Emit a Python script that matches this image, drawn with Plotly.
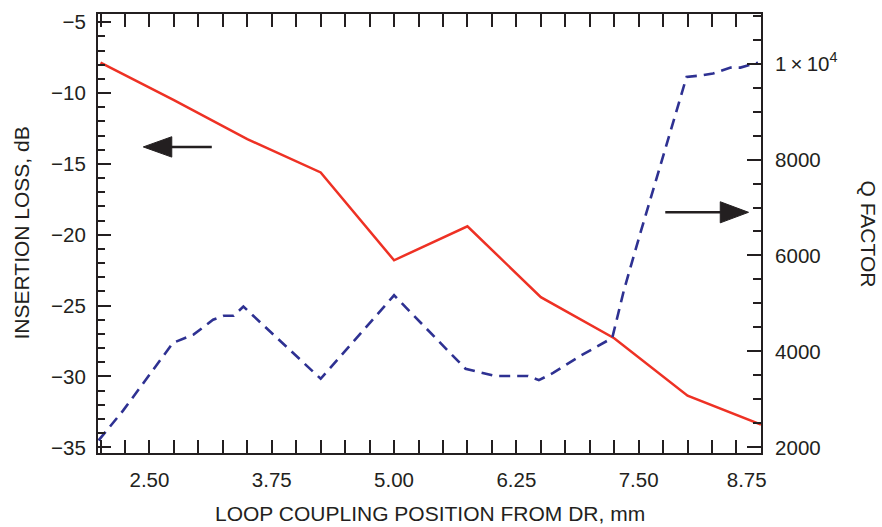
import plotly.graph_objects as go

# ---- data ----
x_loss = [2.0, 2.75, 3.5, 4.25, 5.0, 5.75, 6.5, 7.25, 8.0, 8.75]
insertion_loss = [-7.85, -10.5, -13.25, -15.6, -21.8, -19.4, -24.4, -27.3, -31.35, -33.4]

x_q = [1.98, 2.23, 2.74, 2.95, 3.15, 3.26, 3.36, 3.46, 4.25, 5.0, 5.73, 5.95, 6.03,
       6.37, 6.48, 6.63, 6.90, 7.23, 7.35, 7.52, 7.70, 7.87, 7.99, 8.13, 8.26, 8.44,
       8.54, 8.72]
q_factor = [2145, 2765, 4177, 4350, 4660, 4743, 4743, 4935, 3430, 5170, 3639, 3523, 3488,
            3488, 3400, 3556, 3902, 4280, 5280, 6485, 7726, 8897, 9724, 9751, 9793, 9917,
            9917, 10020]

x_ticks = [2.5, 3.75, 5.0, 6.25, 7.5, 8.75]
x_ticklabels = ["2.50", "3.75", "5.00", "6.25", "7.50", "8.75\u00a0\u00a0\u00a0\u00a0\u00a0"]
y_ticks = [-35, -30, -25, -20, -15, -10, -5]
q_ticks = [2000, 4000, 6000, 8000, 10000]
q_ticklabels = ["2000", "4000", "6000", "8000", "1\u2009\u00d7\u200910<sup>4</sup>"]

RED = "#EE3124"
BLUE = "#2E3192"
INK = "#231F20"
FONT = "Liberation Sans, Arial, Helvetica, sans-serif"

fig = go.Figure()
fig.add_trace(go.Scatter(x=x_loss, y=insertion_loss, mode="lines",
                         line=dict(color=RED, width=2.5), yaxis="y", showlegend=False))
fig.add_trace(go.Scatter(x=x_q, y=q_factor, mode="lines",
                         line=dict(color=BLUE, width=2.6, dash="11px,7px"),
                         yaxis="y2", showlegend=False))

axis_common = dict(showgrid=False, zeroline=False, showline=True, linewidth=2,
                   linecolor=INK, ticks="inside", tickcolor=INK, tickwidth=1.5,
                   tickfont=dict(family=FONT, size=20.5, color=INK))

fig.update_layout(
    width=882, height=527,
    margin=dict(l=98, r=121, t=10, b=74),
    paper_bgcolor="white", plot_bgcolor="white",
    font=dict(family=FONT, size=20.5, color=INK),
    xaxis=dict(range=[1.974, 8.7505], tickvals=x_ticks, ticktext=x_ticklabels,
               ticklen=13, mirror="allticks", ticklabelstandoff=7,
               minor=dict(tickvals=[2.0 + 0.25 * i for i in range(28)], ticklen=7,
                          ticks="inside", tickcolor=INK, tickwidth=1.5),
               **axis_common),
    yaxis=dict(range=[-35.4, -4.42], tickvals=y_ticks, ticklen=13,
               ticklabelstandoff=6,
               minor=dict(tickvals=list(range(-35, -4)), ticklen=7, ticks="inside",
                          tickcolor=INK, tickwidth=1.5),
               **axis_common),
    yaxis2=dict(range=[1882, 11034], overlaying="y", side="right",
                tickvals=q_ticks, ticktext=q_ticklabels, ticklen=14,
                ticklabelstandoff=8,
                minor=dict(tickvals=list(range(2000, 11001, 500)), ticklen=8,
                           ticks="inside", tickcolor=INK, tickwidth=1.5),
                **axis_common),
)

# axis titles
fig.add_annotation(text="LOOP COUPLING POSITION FROM DR, mm", xref="paper", yref="paper",
                   x=0.5, y=-61 / 443, xanchor="center", yanchor="middle",
                   showarrow=False, font=dict(family=FONT, size=21, color=INK))
fig.add_annotation(text="INSERTION LOSS, dB", xref="paper", yref="paper",
                   x=(21 - 98) / 663, y=0.5, xanchor="center", yanchor="middle",
                   textangle=-90, showarrow=False, font=dict(family=FONT, size=21, color=INK))
fig.add_annotation(text="Q FACTOR", xref="paper", yref="paper",
                   x=(868 - 98) / 663, y=0.5, xanchor="center", yanchor="middle",
                   textangle=90, showarrow=False, font=dict(family=FONT, size=21, color=INK))

# arrows pointing at the respective axes
la_y, la_h = -13.8, 0.72
fig.add_shape(type="line", xref="x", yref="y", x0=3.137, x1=2.72, y0=la_y, y1=la_y,
              line=dict(color=INK, width=2.5))
fig.add_shape(type="path", xref="x", yref="y",
              path=f"M 2.437 {la_y} L 2.728 {la_y + la_h} L 2.728 {la_y - la_h} Z",
              fillcolor=INK, line=dict(color=INK, width=1))
ra_y, ra_h = 6900, 220
fig.add_shape(type="line", xref="x", yref="y2", x0=7.772, x1=8.34, y0=ra_y, y1=ra_y,
              line=dict(color=INK, width=2.5))
fig.add_shape(type="path", xref="x", yref="y2",
              path=f"M 8.623 {ra_y} L 8.334 {ra_y + ra_h} L 8.334 {ra_y - ra_h} Z",
              fillcolor=INK, line=dict(color=INK, width=1))

fig.write_html("out.html")
